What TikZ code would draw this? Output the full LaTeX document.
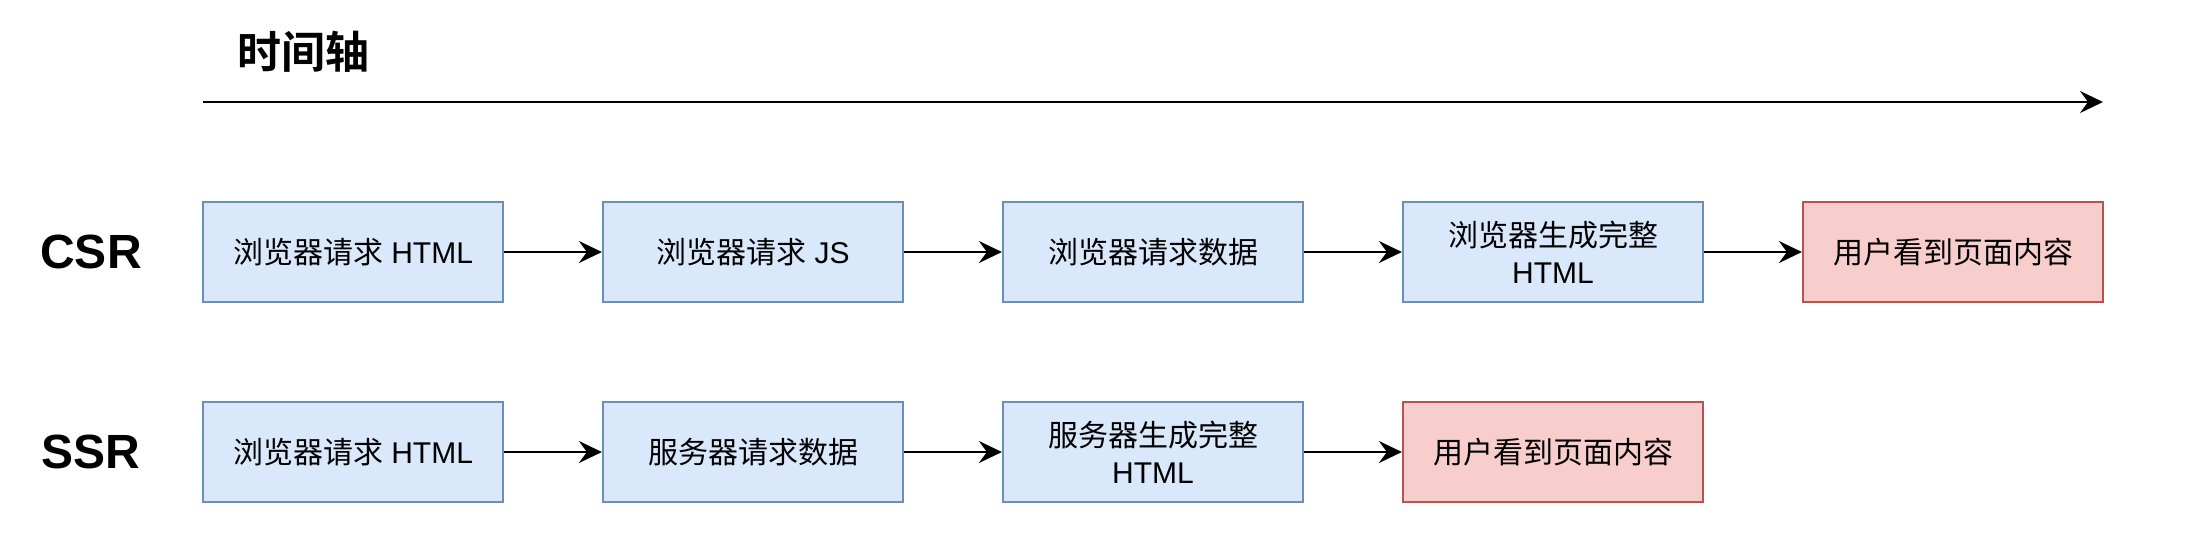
\documentclass[tikz,border=0pt]{standalone}
\usepackage{fontspec}
\setmainfont{Liberation Sans}
\newfontfamily\cjkfont{Noto Sans CJK SC}[BoldFont={Noto Sans CJK SC Bold}]
\newcommand\zh[1]{{\cjkfont #1}}
\usetikzlibrary{arrows.meta}
\definecolor{bluefill}{HTML}{DAE8FC}
\definecolor{bluedraw}{HTML}{6C8EBF}
\definecolor{redfill}{HTML}{F8CECC}
\definecolor{reddraw}{HTML}{B85450}
\tikzset{
  box/.style={draw, line width=1.1pt, minimum width=150pt, minimum height=50pt, inner sep=0pt, align=center, font=\fontsize{15}{18.5}\selectfont},
  bluebox/.style={box, fill=bluefill, draw=bluedraw},
  redbox/.style={box, fill=redfill, draw=reddraw},
  conn/.style={line width=1pt, -{Stealth[length=11.5pt, width=11pt, inset=4pt]}},
  rowlabel/.style={font=\fontsize{24}{28}\selectfont\bfseries}
}
\begin{document}
\begin{tikzpicture}[x=0.5pt, y=-0.5pt]
\useasboundingbox (0,0) rectangle (2192,554);
% title and timeline
\node[font=\fontsize{22}{26}\selectfont] (title) at (303,52) {\zh{\bfseries 时间轴}};
\coordinate (t0) at (203,102);
\coordinate (t1) at (2103,102);
\draw[conn] (t0) -- (t1);
% row labels
\node[rowlabel] (csr) at (91,252) {CSR};
\node[rowlabel] (ssr) at (91,452) {SSR};
% CSR row
\node[bluebox] (c1) at (353,252) {\zh{浏览器请求} HTML};
\node[bluebox] (c2) at (753,252) {\zh{浏览器请求} JS};
\node[bluebox] (c3) at (1153,252) {\zh{浏览器请求数据}};
\node[bluebox] (c4) at (1553,252) {\zh{浏览器生成完整}\\HTML};
\node[redbox] (c5) at (1953,252) {\zh{用户看到页面内容}};
\draw[conn] (c1) -- (c2);
\draw[conn] (c2) -- (c3);
\draw[conn] (c3) -- (c4);
\draw[conn] (c4) -- (c5);
% SSR row
\node[bluebox] (s1) at (353,452) {\zh{浏览器请求} HTML};
\node[bluebox] (s2) at (753,452) {\zh{服务器请求数据}};
\node[bluebox] (s3) at (1153,452) {\zh{服务器生成完整}\\HTML};
\node[redbox] (s4) at (1553,452) {\zh{用户看到页面内容}};
\draw[conn] (s1) -- (s2);
\draw[conn] (s2) -- (s3);
\draw[conn] (s3) -- (s4);
\end{tikzpicture}
\end{document}
